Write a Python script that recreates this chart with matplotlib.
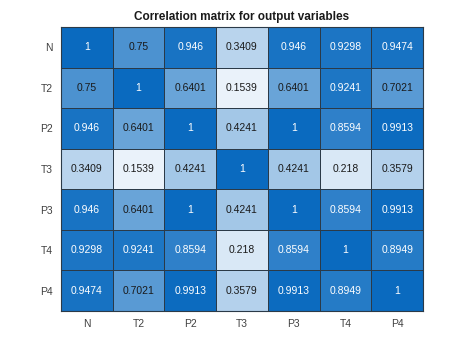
import numpy as np
import matplotlib
matplotlib.use("Agg")
import matplotlib.pyplot as plt
from matplotlib.colors import LinearSegmentedColormap

plt.rcParams['font.family'] = ['Liberation Sans', 'DejaVu Sans']

labels = ["N", "T2", "P2", "T3", "P3", "T4", "P4"]
values = [
    [1, 0.75, 0.946, 0.3409, 0.946, 0.9298, 0.9474],
    [0.75, 1, 0.6401, 0.1539, 0.6401, 0.9241, 0.7021],
    [0.946, 0.6401, 1, 0.4241, 1, 0.8594, 0.9913],
    [0.3409, 0.1539, 0.4241, 1, 0.4241, 0.218, 0.3579],
    [0.946, 0.6401, 1, 0.4241, 1, 0.8594, 0.9913],
    [0.9298, 0.9241, 0.8594, 0.218, 0.8594, 1, 0.8949],
    [0.9474, 0.7021, 0.9913, 0.3579, 0.9913, 0.8949, 1],
]
title = "Correlation matrix for output variables"

data = np.array(values)
cmap = LinearSegmentedColormap.from_list("sky", ["#eaf2fa", "#0a6abf"])

fig = plt.figure(figsize=(4.67, 3.5), dpi=100)
ax = fig.add_axes([0.1306, 0.1114, 0.7752, 0.8114])
ax.pcolormesh(data, cmap=cmap, vmin=data.min(), vmax=data.max(),
              edgecolors="#2b3a48", linewidth=0.6)
ax.set_xlim(0, len(labels))
ax.set_ylim(len(labels), 0)
ax.set_xticks(np.arange(len(labels)) + 0.5)
ax.set_yticks(np.arange(len(labels)) + 0.5)
ax.set_xticklabels(labels)
ax.set_yticklabels(labels)
ax.tick_params(axis="x", length=0, labelsize=7.5, colors="#404040", pad=6)
ax.tick_params(axis="y", length=0, labelsize=7.5, colors="#404040", pad=6)
for s in ax.spines.values():
    s.set_color("#2b3a48")
    s.set_linewidth(0.8)

for i in range(len(labels)):
    for j in range(len(labels)):
        v = data[i, j]
        txt = f"{v:.4g}"
        color = "white" if v > 0.8 else "#1a1a1a"
        ax.text(j + 0.5, i + 0.5, txt, ha="center", va="center",
                fontsize=7.5, color=color)

ax.set_title(title, fontsize=8.5, fontweight="bold", color="#1a1a1a", pad=5)
fig.savefig("out.png", dpi=100)
